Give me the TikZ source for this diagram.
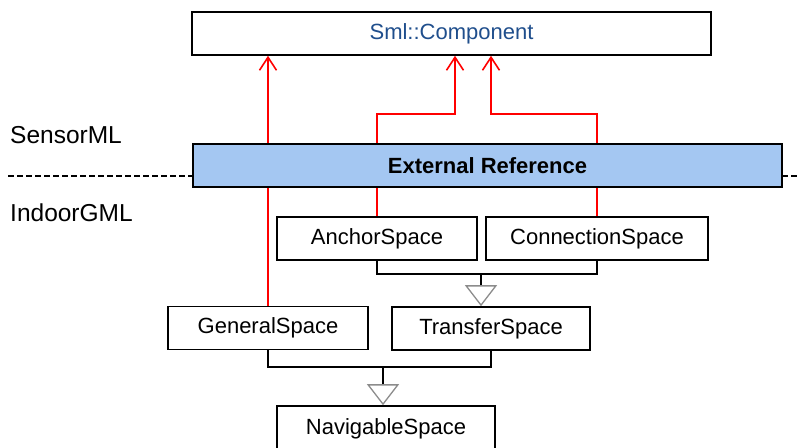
\documentclass[tikz,border=0pt]{standalone}
\usepackage{fontspec}
\setmainfont{Liberation Sans}
\usepackage{xcolor}
\usepackage{tikz}
\usetikzlibrary{calc, arrows.meta, positioning}

\definecolor{smlblue}{RGB}{31,78,140}
\definecolor{refblue}{RGB}{164,199,242}

\begin{document}
\begin{tikzpicture}[x=1pt, y=-1pt,
  klasa/.style={draw, line width=1.6pt, minimum height=43pt, inner sep=0pt, font=\fontsize{22}{26}\selectfont},
  odnosnik/.style={draw=red, line width=1.6pt, -{Straight Barb[length=13pt, width=17pt, line width=1.6pt]}},
  dziedzicz/.style={draw=black, line width=1.6pt},
  trojkat/.style={line width=2.2pt, -{Triangle[open, length=21pt, width=32pt, line width=1.3pt, color=black!45]}},
  napis/.style={anchor=base west, inner sep=0pt, font=\fontsize{24.5}{28}\selectfont}]
\useasboundingbox (0,0) rectangle (797,447);
\node[klasa, minimum width=519pt, text=smlblue](component) at (451.5,33.5) {Sml::Component};
\node[klasa, minimum width=200pt](anchor) at (377,238.5) {AnchorSpace};
\node[klasa, minimum width=222pt](connection) at (597,238.5) {ConnectionSpace};
\node[klasa, minimum width=200pt](general) at (268,328) {GeneralSpace};
\node[klasa, minimum width=198pt](transfer) at (491,328.5) {TransferSpace};
\node[klasa, minimum width=218pt, minimum height=46pt](navigable) at (386,429) {NavigableSpace};
\node[napis](sensorml) at (10,143) {SensorML};
\node[napis](indoorgml) at (10,221) {IndoorGML};
% red links up to Sml::Component
\coordinate (k1) at (455,114);
\coordinate (k2) at (491,114);
\path[odnosnik](general.north) -- (general.north |- component.south);
\path[odnosnik](anchor.north) |- (k1) -- (k1 |- component.south);
\path[odnosnik](connection.north) |- (k2) -- (k2 |- component.south);
% package border
\coordinate (granica) at (8,176);
\draw[line width=1.4pt, dash pattern=on 6pt off 3pt](granica) -- (797,176);
\node[klasa, minimum width=589pt, fill=refblue, font=\fontsize{22}{26}\selectfont\bfseries](extref) at (487.5,165.5) {External Reference};
% generalisation
\coordinate (z1) at (481,274);
\coordinate (z2) at (383,367);
\path[dziedzicz](anchor.south) |- (z1) -| (connection.south);
\path[draw, trojkat](z1) -- (z1 |- transfer.north);
\path[dziedzicz](general.south) |- (z2) -| (transfer.south);
\path[draw, trojkat](z2) -- (z2 |- navigable.north);
\end{tikzpicture}
\end{document}
